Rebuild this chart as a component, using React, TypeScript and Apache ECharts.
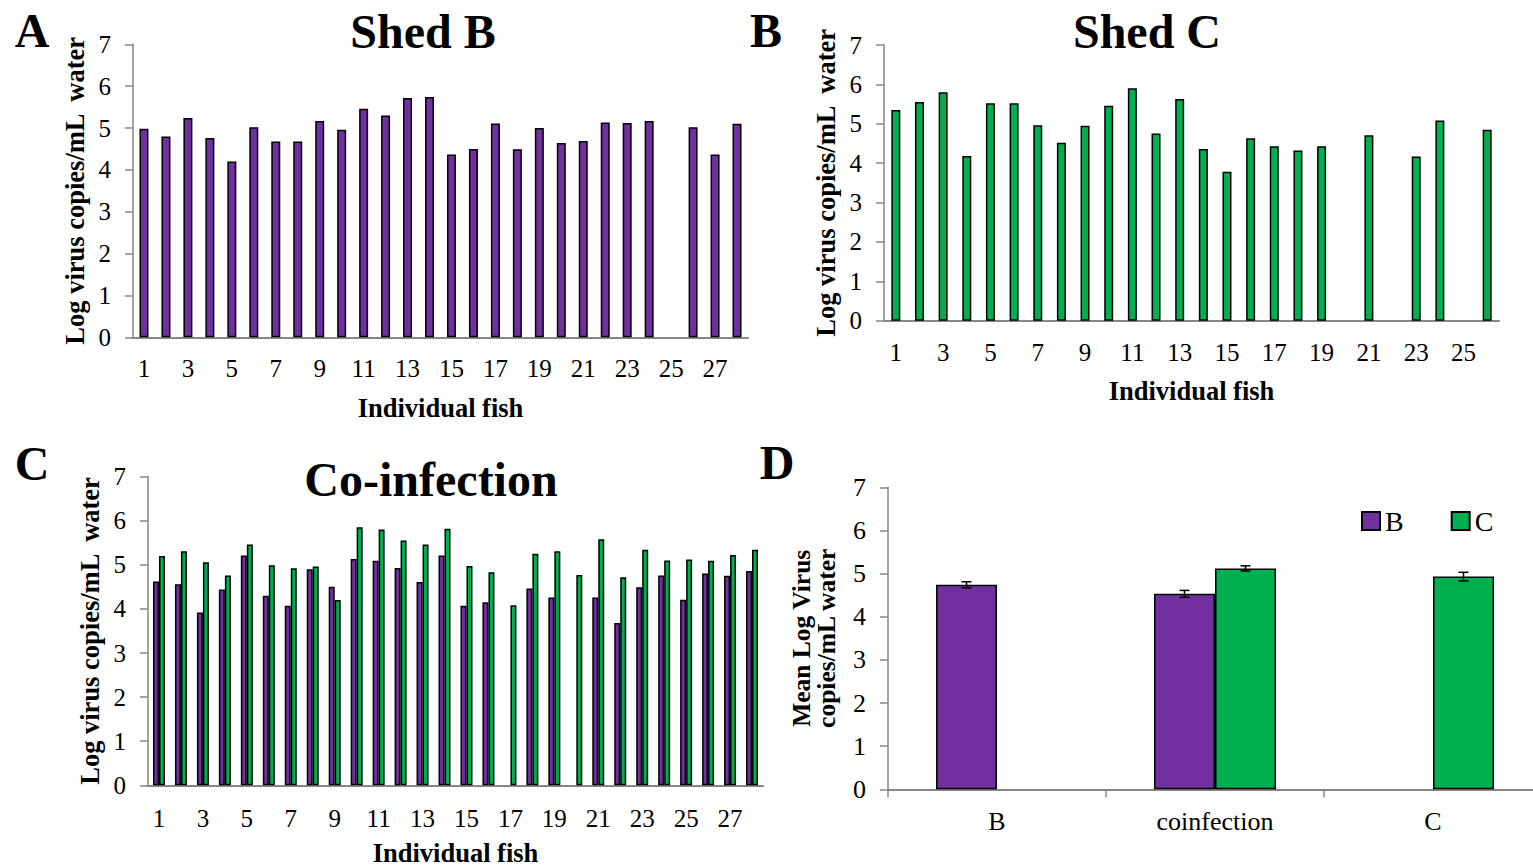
import React, { useEffect, useRef } from "react";
import * as echarts from "echarts";

// Individual fish numbers per shedding group
const fishShedB = ["1", "2", "3", "4", "5", "6", "7", "8", "9", "10", "11", "12", "13", "14", "15", "16", "17", "18", "19", "20", "21", "22", "23", "24", "25", "26", "27", "28"];
const fishShedC = ["1", "2", "3", "4", "5", "6", "7", "8", "9", "10", "11", "12", "13", "14", "15", "16", "17", "18", "19", "20", "21", "22", "23", "24", "25", "26"];
const fishCoinf = ["1", "2", "3", "4", "5", "6", "7", "8", "9", "10", "11", "12", "13", "14", "15", "16", "17", "18", "19", "20", "21", "22", "23", "24", "25", "26", "27", "28"];

// Log virus copies / mL water shed by each fish (null = not detected)
const shedB = [4.98, 4.8, 5.24, 4.76, 4.2, 5.02, 4.68, 4.68, 5.17, 4.96, 5.46, 5.3, 5.72, 5.74, 4.37, 4.5, 5.11, 4.49, 5.0, 4.64, 4.69, 5.13, 5.12, 5.17, null, 5.02, 4.37, 5.1];
const shedC = [5.35, 5.55, 5.8, 4.18, 5.52, 5.52, 4.96, 4.52, 4.95, 5.46, 5.9, 4.75, 5.63, 4.36, 3.78, 4.63, 4.43, 4.32, 4.43, null, 4.71, null, 4.17, 5.08, null, 4.85];
const coinfB = [4.62, 4.56, 3.92, 4.44, 5.21, 4.3, 4.07, 4.9, 4.5, 5.13, 5.09, 4.93, 4.61, 5.21, 4.07, 4.15, null, 4.46, 4.26, null, 4.26, 3.68, 4.49, 4.76, 4.21, 4.8, 4.75, 4.86];
const coinfC = [5.2, 5.31, 5.06, 4.76, 5.46, 4.99, 4.92, 4.96, 4.2, 5.85, 5.8, 5.55, 5.46, 5.82, 4.97, 4.83, 4.08, 5.25, 5.31, 4.77, 5.58, 4.72, 5.34, 5.1, 5.12, 5.09, 5.22, 5.34];

// Group means with standard errors
const groups = ["B", "coinfection", "C"];
const meanB = [4.74, 4.53, null];
const meanC = [null, 5.12, 4.93];
const errB = [0.07, 0.08, null];
const errC = [null, 0.06, 0.1];

const SERIF = "'Liberation Serif', 'Times New Roman', serif";
const PURPLE = "#7030A0";
const GREEN = "#00B050";
const AXIS_GREY = "#868686";
const MEAN_BAR_W = 61;

const barStyle = (color: string) => ({ color, borderColor: "#000", borderWidth: 1.5 });

function yAxis(gridIndex: number, name: string, nameGap: number, fontSize: number, labelSize: number, extra: any = {}) {
  return {
    type: "value",
    gridIndex,
    min: 0,
    max: 7,
    interval: 1,
    name,
    nameLocation: "middle",
    nameGap,
    nameTextStyle: { fontFamily: SERIF, fontWeight: "bold", fontSize, color: "#000", ...extra },
    axisLine: { show: true, lineStyle: { color: AXIS_GREY, width: 1.5 } },
    axisTick: { show: true, length: 8, lineStyle: { color: AXIS_GREY, width: 1.5 } },
    axisLabel: { fontFamily: SERIF, fontSize: labelSize, color: "#000", margin: 22 },
    splitLine: { show: false },
  };
}

function fishAxis(gridIndex: number, data: string[], nameGap: number, labelMargin: number) {
  return {
    type: "category",
    gridIndex,
    data,
    name: "Individual fish",
    nameLocation: "middle",
    nameGap,
    nameTextStyle: { fontFamily: SERIF, fontWeight: "bold", fontSize: 26.5, color: "#000" },
    axisLine: { show: true, lineStyle: { color: AXIS_GREY, width: 2 } },
    axisTick: { show: false },
    axisLabel: { interval: 1, fontFamily: SERIF, fontSize: 25, color: "#000", margin: labelMargin },
  };
}

function label(text: string, x: number, y: number, size: number) {
  return {
    type: "text",
    x,
    y,
    style: {
      text,
      font: `bold ${size}px ${SERIF}`,
      fill: "#000",
      textAlign: "center",
      textVerticalAlign: "middle",
      align: "center",
      verticalAlign: "middle",
    },
  };
}

export default function App() {
  const ref = useRef<HTMLDivElement>(null);

  useEffect(() => {
    if (!ref.current) return;
    const chart = echarts.init(ref.current, null, { renderer: "svg" });

    const errorData: number[][] = [];
    groups.forEach((_, i) => {
      if (meanB[i] != null && errB[i] != null) errorData.push([i, meanB[i] as number, errB[i] as number, -1]);
      if (meanC[i] != null && errC[i] != null) errorData.push([i, meanC[i] as number, errC[i] as number, 1]);
    });

    chart.setOption({
      animation: false,
      backgroundColor: "#fff",
      graphic: [
        label("A", 32, 30, 48),
        label("Shed B", 423, 31, 48),
        label("B", 766, 30, 48),
        label("Shed C", 1147, 31, 48),
        label("C", 32, 463, 48),
        label("Co-infection", 431, 479, 48),
        label("D", 777, 462, 48),
      ],
      legend: {
        data: ["B", "C"],
        left: 1356,
        top: 502,
        icon: "rect",
        itemWidth: 18,
        itemHeight: 18,
        itemGap: 47,
        textStyle: { fontFamily: SERIF, fontSize: 28, color: "#000" },
      },
      grid: [
        { left: 133, top: 44.3, width: 615, height: 293, containLabel: false, outerBoundsMode: "none" },
        { left: 884, top: 45, width: 615, height: 275.7, containLabel: false, outerBoundsMode: "none" },
        { left: 148, top: 476.6, width: 615, height: 308.7, containLabel: false, outerBoundsMode: "none" },
        { left: 888, top: 487.3, width: 654, height: 302, containLabel: false, outerBoundsMode: "none" },
      ],
      xAxis: [
        fishAxis(0, fishShedB, 57, 19),
        fishAxis(1, fishShedC, 57, 19),
        fishAxis(2, fishCoinf, 54, 21),
        {
          type: "category",
          gridIndex: 3,
          data: groups,
          axisLine: { show: true, lineStyle: { color: AXIS_GREY, width: 2 } },
          axisTick: { show: true, length: 8, lineStyle: { color: AXIS_GREY, width: 1.5 } },
          axisLabel: { fontFamily: SERIF, fontSize: 26, color: "#000", margin: 19 },
        },
      ],
      yAxis: [
        yAxis(0, "Log virus copies/mL  water", 45, 26.5, 25),
        yAxis(1, "Log virus copies/mL  water", 45, 26.5, 25),
        yAxis(2, "Log virus copies/mL  water", 45, 26.5, 25),
        yAxis(3, "Mean Log Virus\ncopies/mL water", 49, 25.5, 26, { lineHeight: 25 }),
      ],
      series: [
        { type: "bar", name: "Shed B", xAxisIndex: 0, yAxisIndex: 0, data: shedB, barWidth: 9, itemStyle: barStyle(PURPLE) },
        { type: "bar", name: "Shed C", xAxisIndex: 1, yAxisIndex: 1, data: shedC, barWidth: 9, itemStyle: barStyle(GREEN) },
        { type: "bar", name: "Co-infection B", xAxisIndex: 2, yAxisIndex: 2, data: coinfB, barWidth: 6, barGap: "0%", itemStyle: barStyle(PURPLE) },
        { type: "bar", name: "Co-infection C", xAxisIndex: 2, yAxisIndex: 2, data: coinfC, barWidth: 6, barGap: "0%", itemStyle: barStyle(GREEN) },
        { type: "bar", name: "B", xAxisIndex: 3, yAxisIndex: 3, data: meanB, barWidth: MEAN_BAR_W, barGap: "0%", itemStyle: barStyle(PURPLE) },
        { type: "bar", name: "C", xAxisIndex: 3, yAxisIndex: 3, data: meanC, barWidth: MEAN_BAR_W, barGap: "0%", itemStyle: barStyle(GREEN) },
        {
          type: "custom",
          xAxisIndex: 3,
          yAxisIndex: 3,
          z: 10,
          data: errorData,
          renderItem: (_params: any, api: any) => {
            const cat = api.value(0);
            const mean = api.value(1);
            const err = api.value(2);
            const side = api.value(3);
            const x = api.coord([cat, mean])[0] + (side * MEAN_BAR_W) / 2;
            const yTop = api.coord([cat, mean + err])[1];
            const yBot = api.coord([cat, mean - err])[1];
            const cap = 5;
            const st = { stroke: "#000", lineWidth: 1.5 };
            return {
              type: "group",
              children: [
                { type: "line", shape: { x1: x, y1: yTop, x2: x, y2: yBot }, style: st },
                { type: "line", shape: { x1: x - cap, y1: yTop, x2: x + cap, y2: yTop }, style: st },
                { type: "line", shape: { x1: x - cap, y1: yBot, x2: x + cap, y2: yBot }, style: st },
              ],
            };
          },
        },
      ],
    });

    return () => chart.dispose();
  }, []);

  return <div ref={ref} style={{ position: "absolute", left: 0, top: 0, width: 1533, height: 868, background: "#fff" }} />;
}
